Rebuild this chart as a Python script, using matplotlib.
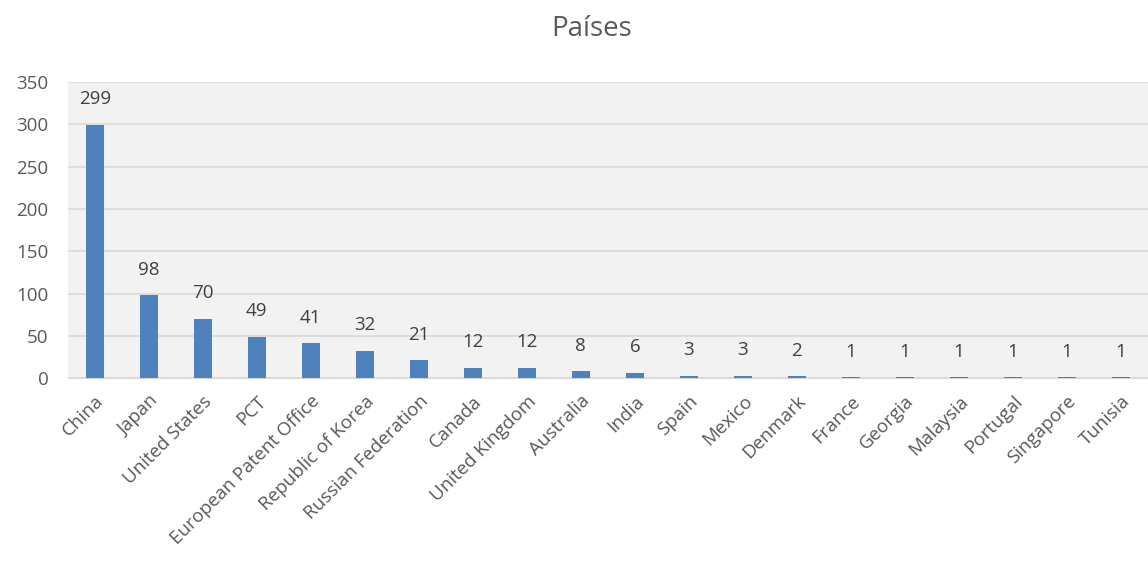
import numpy as np
import matplotlib.pyplot as plt

plt.rcParams['font.family'] = ['Open Sans', 'DejaVu Sans']

paises = ['China', 'Japan', 'United States', 'PCT', 'European Patent Office',
          'Republic of Korea', 'Russian Federation', 'Canada', 'United Kingdom',
          'Australia', 'India', 'Spain', 'Mexico', 'Denmark', 'France', 'Georgia',
          'Malaysia', 'Portugal', 'Singapore', 'Tunisia']
valores = [299, 98, 70, 49, 41, 32, 21, 12, 12, 8, 6, 3, 3, 2, 1, 1, 1, 1, 1, 1]

fig = plt.figure(figsize=(11.48, 5.73), dpi=100)
ax = fig.add_axes([0.059, 0.340, 0.941, 0.517])
ax.set_facecolor('#f2f2f2')

x = np.arange(len(paises))
bars = ax.bar(x, valores, width=0.33, color='#4f81bd', zorder=3)
for xi, v in zip(x, valores):
    ax.annotate(str(v), (xi, v), xytext=(0, 12), textcoords='offset points',
                ha='center', va='bottom', fontsize=13.5, color='#404040')

ax.set_xlim(-0.5, len(paises) - 0.5)
ax.set_ylim(0, 350)
ax.set_yticks(range(0, 351, 50))
ax.yaxis.grid(True, color='#d9d9d9', linewidth=1.2, zorder=0)
ax.set_xticks(x)
ax.set_xticklabels(paises, rotation=45, ha='right', rotation_mode='anchor',
                   fontsize=13.5, color='#595959')
ax.tick_params(axis='y', labelsize=13.5, labelcolor='#595959', length=0, pad=14)
ax.tick_params(axis='x', length=0, pad=10)
for s in ['top', 'right', 'left']:
    ax.spines[s].set_visible(False)
ax.spines['bottom'].set_color('#d9d9d9')

fig.text(0.515, 0.95, 'Países', ha='center', va='center', fontsize=20, color='#595959')

fig.savefig('out.png', dpi=100)
